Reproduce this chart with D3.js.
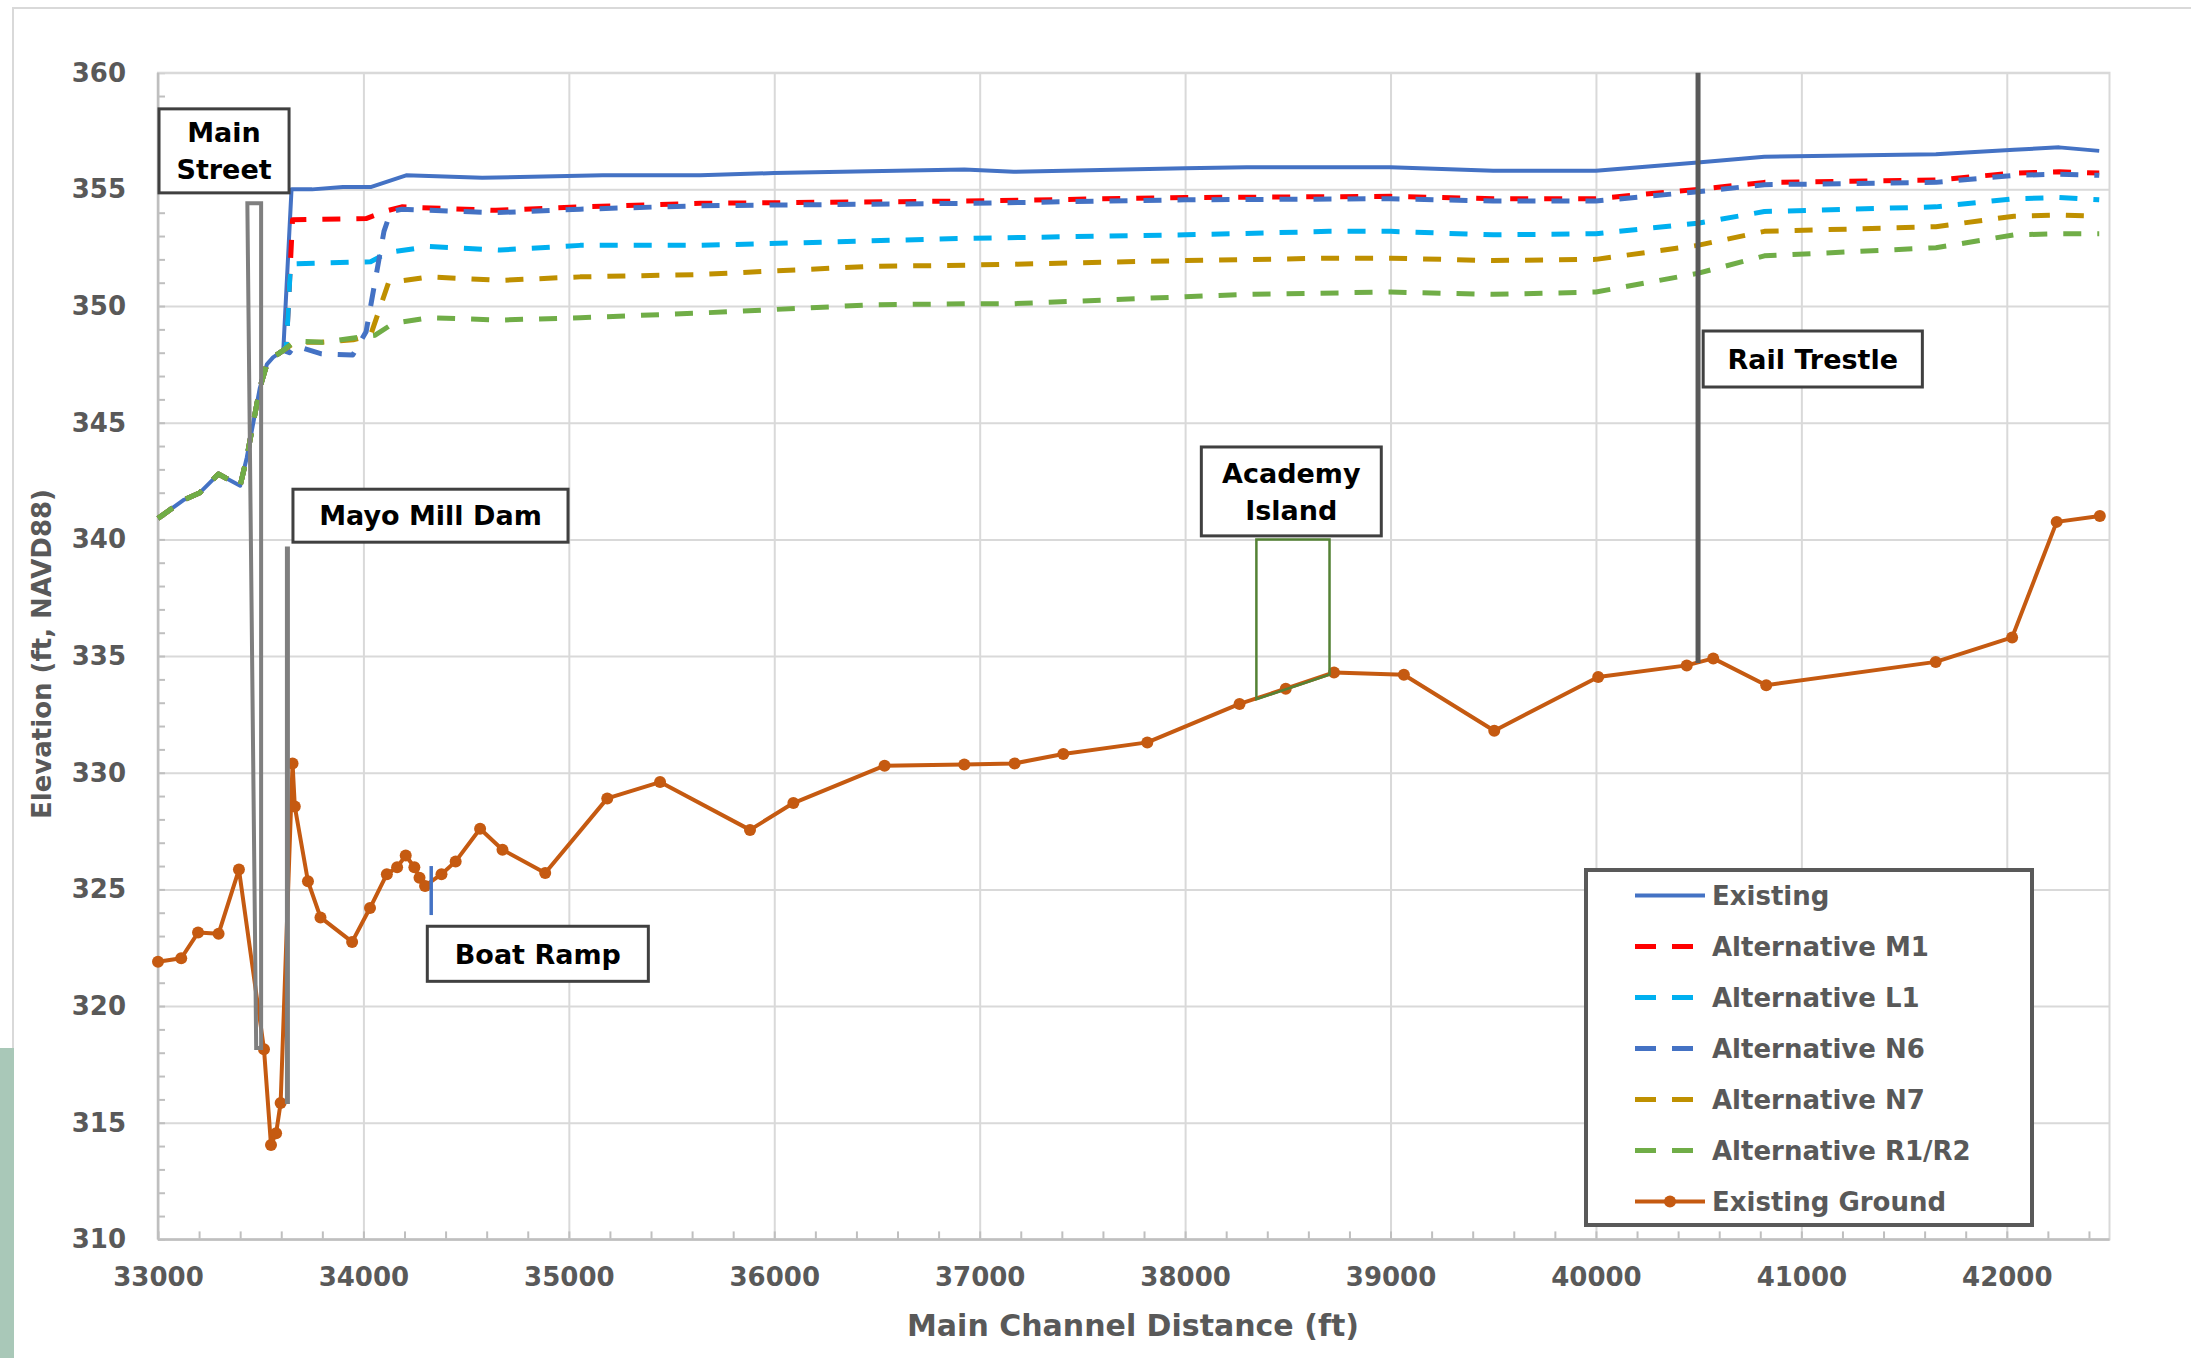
<!DOCTYPE html>
<html>
<head>
<meta charset="utf-8">
<script src="https://cdn.jsdelivr.net/npm/d3@7"></script>
<style>
  body { margin: 0; background: #ffffff; }
  text { font-family: "DejaVu Sans", sans-serif; }
</style>
</head>
<body>
<script>
// tamaño de la imagen
var ancho = 2191, alto = 1358;

// ---- datos ----
var xTicks = [33000, 34000, 35000, 36000, 37000, 38000, 39000, 40000, 41000, 42000];
var yTicks = [310, 315, 320, 325, 330, 335, 340, 345, 350, 355, 360];

// tramo comun de todas las superficies de agua
var comunX = [33000, 33127, 33204, 33294, 33400, 33432, 33496, 33530, 33560, 33610];
var comunY = [340.9, 341.7, 342.0, 342.8, 342.3, 343.5, 346.5, 347.5, 347.8, 348.1];

var existenteX = [33650, 33750, 33900, 34035, 34208, 34578, 35165, 35640, 36000, 36925, 37165, 38000, 38300, 39000, 39500, 40000, 40495, 40820, 41655, 42035, 42255, 42450];
var existenteY = [355.0, 355.0, 355.1, 355.1, 355.6, 355.5, 355.6, 355.6, 355.7, 355.85, 355.75, 355.9, 355.95, 355.95, 355.8, 355.8, 356.15, 356.4, 356.5, 356.7, 356.8, 356.65];

var m1X = [33625, 33655, 34013, 34122, 34187, 34644, 35055, 35640, 36930, 38000, 39000, 39500, 40000, 40495, 40820, 41655, 42035, 42255, 42450];
var m1Y = [348.3, 353.7, 353.75, 354.1, 354.25, 354.1, 354.25, 354.4, 354.5, 354.65, 354.7, 354.6, 354.6, 355.0, 355.3, 355.4, 355.7, 355.75, 355.7];

var l1X = [33625, 33645, 34035, 34122, 34318, 34665, 35055, 35640, 36930, 38000, 38700, 39000, 39500, 40000, 40495, 40820, 41655, 42035, 42255, 42450];
var l1Y = [348.3, 351.8, 351.9, 352.3, 352.55, 352.4, 352.6, 352.6, 352.9, 353.05, 353.2, 353.2, 353.05, 353.1, 353.55, 354.05, 354.25, 354.6, 354.65, 354.55];

var n6X = [33640, 33666, 33796, 33948, 34013, 34100, 34133, 34187, 34644, 35055, 35640, 36930, 38000, 39000, 39500, 40000, 40495, 40820, 41655, 42035, 42255, 42450];
var n6Y = [348.0, 348.3, 347.95, 347.9, 348.9, 353.2, 354.05, 354.15, 354.0, 354.15, 354.3, 354.4, 354.55, 354.6, 354.5, 354.5, 354.9, 355.2, 355.3, 355.6, 355.65, 355.6];

var n7X = [33666, 33800, 33950, 34035, 34122, 34318, 34665, 35055, 35640, 36470, 36930, 38000, 38700, 39000, 39500, 40000, 40495, 40820, 41655, 42035, 42255, 42450];
var n7Y = [348.45, 348.45, 348.55, 348.75, 351.0, 351.25, 351.1, 351.25, 351.35, 351.7, 351.75, 351.95, 352.05, 352.05, 351.95, 352.0, 352.6, 353.2, 353.4, 353.85, 353.9, 353.85];

var r1X = [33666, 33800, 33970, 34057, 34144, 34318, 34665, 35055, 35640, 36470, 36930, 37165, 38000, 38300, 39000, 39500, 40000, 40495, 40820, 41655, 42035, 42255, 42450];
var r1Y = [348.5, 348.45, 348.65, 348.75, 349.25, 349.5, 349.4, 349.5, 349.7, 350.05, 350.1, 350.1, 350.4, 350.5, 350.6, 350.5, 350.6, 351.4, 352.15, 352.5, 353.05, 353.1, 353.1];

var sueloX = [33000, 33113, 33195, 33295, 33394, 33516, 33550, 33575, 33597, 33655, 33666, 33730, 33791, 33945, 34032, 34114, 34164, 34206, 34248, 34273, 34300, 34380, 34449, 34568, 34677, 34885, 35187, 35444, 35882, 36093, 36537, 36925, 37170, 37407, 37816, 38265, 38490, 38725, 39065, 39505, 40011, 40442, 40571, 40829, 41654, 42026, 42243, 42453];
var sueloY = [321.9, 322.05, 323.15, 323.1, 325.85, 318.15, 314.05, 314.55, 315.85, 330.4, 328.55, 325.35, 323.8, 322.75, 324.2, 325.65, 325.95, 326.45, 325.95, 325.5, 325.15, 325.65, 326.2, 327.6, 326.7, 325.7, 328.9, 329.6, 327.55, 328.7, 330.3, 330.35, 330.4, 330.8, 331.3, 332.95, 333.6, 334.3, 334.2, 331.8, 334.1, 334.6, 334.9, 333.75, 334.75, 335.8, 340.75, 341.0];

var nombres = ["Existing", "Alternative M1", "Alternative L1", "Alternative N6", "Alternative N7", "Alternative R1/R2", "Existing Ground"];

// cajas de texto (en unidades del grafico: x0, x1, y arriba, y abajo)
var cajas = [
  {lineas: ["Main", "Street"], x0: 33005, x1: 33638, y0: 358.45, y1: 354.85},
  {lineas: ["Mayo Mill Dam"], x0: 33657, x1: 34996, y0: 342.15, y1: 339.88},
  {lineas: ["Boat Ramp"], x0: 34311, x1: 35387, y0: 323.42, y1: 321.06},
  {lineas: ["Academy", "Island"], x0: 38079, x1: 38955, y0: 343.96, y1: 340.15},
  {lineas: ["Rail Trestle"], x0: 40522, x1: 41589, y0: 348.93, y1: 346.53}
];

// ---- construccion de series ----
function unir(xs, ys, conComun) {
  var pts = [];
  if (conComun) comunX.forEach(function(v, i){ pts.push([v, comunY[i]]); });
  xs.forEach(function(v, i){ pts.push([v, ys[i]]); });
  return pts;
}

var series = [
  {nombre: nombres[0], color: "#4472C4", dash: null, ancho: 4, datos: unir(existenteX, existenteY, true)},
  {nombre: nombres[1], color: "#FF0000", dash: "18,16", ancho: 5, datos: unir(m1X, m1Y, true)},
  {nombre: nombres[2], color: "#00B0F0", dash: "18,16", ancho: 5, datos: unir(l1X, l1Y, true)},
  {nombre: nombres[3], color: "#4472C4", dash: "18,16", ancho: 5, datos: unir(n6X, n6Y, true)},
  {nombre: nombres[4], color: "#BF9000", dash: "18,16", ancho: 5, datos: unir(n7X, n7Y, true)},
  {nombre: nombres[5], color: "#70AD47", dash: "18,16", ancho: 5, datos: unir(r1X, r1Y, true)}
];
var suelo = unir(sueloX, sueloY, false);

// ---- svg ----
var svg = d3.select("body").append("svg")
  .attr("width", ancho).attr("height", alto);

svg.append("rect").attr("width", ancho).attr("height", alto).attr("fill", "#ffffff");
// borde del area del grafico y fondo de la diapositiva
svg.append("rect").attr("x", 13).attr("y", 8).attr("width", ancho).attr("height", alto)
  .attr("fill", "none").attr("stroke", "#D9D9D9").attr("stroke-width", 2);
svg.append("rect").attr("x", 0).attr("y", 1048).attr("width", 14).attr("height", 310)
  .attr("fill", "#A9C8B8");

var izq = 158, der = 2109.5, arriba = 72.7, abajo = 1239.4;

var escalaX = d3.scaleLinear().domain([33000, 42500]).range([izq, der]);
var escalaY = d3.scaleLinear().domain([310, 360]).range([abajo, arriba]);

// rejilla
svg.append("g")
  .attr("transform", "translate(0," + abajo + ")")
  .call(d3.axisBottom(escalaX).tickValues(xTicks).tickSize(-(abajo - arriba)).tickFormat(""))
  .call(function(g){ g.select(".domain").remove(); })
  .selectAll("line").attr("stroke", "#D9D9D9").attr("stroke-width", 2);

svg.append("g")
  .attr("transform", "translate(" + izq + ",0)")
  .call(d3.axisLeft(escalaY).tickValues(yTicks).tickSize(-(der - izq)).tickFormat(""))
  .call(function(g){ g.select(".domain").remove(); })
  .selectAll("line").attr("stroke", "#D9D9D9").attr("stroke-width", 2);

// marcas menores
svg.append("g")
  .attr("transform", "translate(0," + abajo + ")")
  .call(d3.axisBottom(escalaX).tickValues(d3.range(33000, 42501, 200)).tickSize(-8).tickFormat(""))
  .call(function(g){ g.select(".domain").remove(); })
  .selectAll("line").attr("stroke", "#BFBFBF").attr("stroke-width", 2);

svg.append("g")
  .attr("transform", "translate(" + izq + ",0)")
  .call(d3.axisLeft(escalaY).tickValues(d3.range(310, 361, 1)).tickSize(-7).tickFormat(""))
  .call(function(g){ g.select(".domain").remove(); })
  .selectAll("line").attr("stroke", "#BFBFBF").attr("stroke-width", 2);

// borde del area de trazado
svg.append("rect")
  .attr("x", izq).attr("y", arriba).attr("width", der - izq).attr("height", abajo - arriba)
  .attr("fill", "none").attr("stroke", "#D9D9D9").attr("stroke-width", 2);
svg.append("line").attr("x1", izq).attr("x2", izq).attr("y1", arriba).attr("y2", abajo)
  .attr("stroke", "#BFBFBF").attr("stroke-width", 2.5);
svg.append("line").attr("x1", izq).attr("x2", der).attr("y1", abajo).attr("y2", abajo)
  .attr("stroke", "#BFBFBF").attr("stroke-width", 2.5);

// etiquetas de ejes
var ejeX = svg.append("g")
  .attr("transform", "translate(0," + abajo + ")")
  .call(d3.axisBottom(escalaX).tickValues(xTicks).tickSize(0).tickPadding(28).tickFormat(d3.format("d")));
ejeX.select(".domain").remove();
ejeX.selectAll("text").attr("font-family", "DejaVu Sans").attr("font-weight", "bold")
  .attr("font-size", 26).attr("fill", "#595959");

var ejeY = svg.append("g")
  .attr("transform", "translate(" + izq + ",0)")
  .call(d3.axisLeft(escalaY).tickValues(yTicks).tickSize(0).tickPadding(32).tickFormat(d3.format("d")));
ejeY.select(".domain").remove();
ejeY.selectAll("text").attr("font-family", "DejaVu Sans").attr("font-weight", "bold")
  .attr("font-size", 26).attr("fill", "#595959");

svg.append("text")
  .attr("x", 1133).attr("y", 1336)
  .attr("text-anchor", "middle").attr("font-weight", "bold").attr("font-size", 30)
  .attr("fill", "#595959").text("Main Channel Distance (ft)");

svg.append("text")
  .attr("transform", "translate(51,654) rotate(-90)")
  .attr("text-anchor", "middle").attr("font-weight", "bold").attr("font-size", 26)
  .attr("fill", "#595959").text("Elevation (ft, NAVD88)");

// lineas
var linea = d3.line()
  .x(function(d){ return escalaX(d[0]); })
  .y(function(d){ return escalaY(d[1]); });

svg.selectAll(".serie")
  .data(series)
  .enter()
  .append("path")
  .attr("class", "serie")
  .attr("d", function(d){ return linea(d.datos); })
  .attr("fill", "none")
  .attr("stroke", function(d){ return d.color; })
  .attr("stroke-width", function(d){ return d.ancho; })
  .attr("stroke-dasharray", function(d){ return d.dash; })
  .attr("stroke-linejoin", "round");

// terreno existente
svg.append("path")
  .attr("d", linea(suelo))
  .attr("fill", "none").attr("stroke", "#C55A11").attr("stroke-width", 4)
  .attr("stroke-linejoin", "round");
svg.selectAll(".punto")
  .data(suelo)
  .enter()
  .append("circle")
  .attr("class", "punto")
  .attr("cx", function(d){ return escalaX(d[0]); })
  .attr("cy", function(d){ return escalaY(d[1]); })
  .attr("r", 6)
  .attr("fill", "#C55A11");

// marcas de estructuras
svg.append("path")
  .attr("d", linea([[33435, 354.4], [33502, 354.4], [33502, 318.2], [33478, 318.2]]) + "Z")
  .attr("fill", "none").attr("stroke", "#7F7F7F").attr("stroke-width", 4);

svg.append("line")
  .attr("x1", escalaX(33630)).attr("x2", escalaX(33630))
  .attr("y1", escalaY(339.7)).attr("y2", escalaY(315.8))
  .attr("stroke", "#7F7F7F").attr("stroke-width", 5);

svg.append("line")
  .attr("x1", escalaX(34330)).attr("x2", escalaX(34330))
  .attr("y1", escalaY(326.0)).attr("y2", escalaY(323.9))
  .attr("stroke", "#4472C4").attr("stroke-width", 3.5);

svg.append("path")
  .attr("d", linea([[38347, 340], [38703, 340], [38703, 334.2], [38347, 333.15]]) + "Z")
  .attr("fill", "none").attr("stroke", "#548235").attr("stroke-width", 2.5);

svg.append("line")
  .attr("x1", escalaX(40497)).attr("x2", escalaX(40497))
  .attr("y1", escalaY(360)).attr("y2", escalaY(334.7))
  .attr("stroke", "#595959").attr("stroke-width", 5);

// cajas con texto
var grupoCajas = svg.selectAll(".caja")
  .data(cajas)
  .enter()
  .append("g")
  .attr("class", "caja");

grupoCajas.append("rect")
  .attr("x", function(d){ return escalaX(d.x0); })
  .attr("y", function(d){ return escalaY(d.y0); })
  .attr("width", function(d){ return escalaX(d.x1) - escalaX(d.x0); })
  .attr("height", function(d){ return escalaY(d.y1) - escalaY(d.y0); })
  .attr("fill", "#ffffff").attr("stroke", "#404040").attr("stroke-width", 3);

grupoCajas.each(function(d){
  var g = d3.select(this);
  var cx = (escalaX(d.x0) + escalaX(d.x1)) / 2;
  var cy = (escalaY(d.y0) + escalaY(d.y1)) / 2;
  var paso = 37;
  d.lineas.forEach(function(t, i){
    g.append("text")
      .attr("x", cx)
      .attr("y", cy + (i - (d.lineas.length - 1) / 2) * paso)
      .attr("dy", "0.36em")
      .attr("text-anchor", "middle")
      .attr("font-weight", "bold").attr("font-size", 27)
      .attr("fill", "#000000")
      .text(t);
  });
});

// leyenda
var leyenda = svg.append("g");
leyenda.append("rect")
  .attr("x", 1586).attr("y", 870).attr("width", 446).attr("height", 355)
  .attr("fill", "#ffffff").attr("stroke", "#595959").attr("stroke-width", 4);

var itemsLeyenda = series.map(function(s){ return {nombre: s.nombre, color: s.color, dash: s.dash ? "21,16" : null, punto: false}; });
itemsLeyenda.push({nombre: nombres[6], color: "#C55A11", dash: null, punto: true});

var filas = leyenda.selectAll(".fila")
  .data(itemsLeyenda)
  .enter()
  .append("g")
  .attr("class", "fila")
  .attr("transform", function(d, i){ return "translate(0," + (895.6 + i * 51) + ")"; });

filas.append("line")
  .attr("x1", 1635).attr("x2", 1705).attr("y1", 0).attr("y2", 0)
  .attr("stroke", function(d){ return d.color; })
  .attr("stroke-width", function(d){ return d.dash ? 5 : 4; })
  .attr("stroke-dasharray", function(d){ return d.dash; });

filas.filter(function(d){ return d.punto; })
  .append("circle").attr("cx", 1670).attr("cy", 0).attr("r", 6).attr("fill", "#C55A11");

filas.append("text")
  .attr("x", 1712).attr("y", 0).attr("dy", "0.36em")
  .attr("font-weight", "bold").attr("font-size", 26).attr("fill", "#595959")
  .text(function(d){ return d.nombre; });
</script>
</body>
</html>
